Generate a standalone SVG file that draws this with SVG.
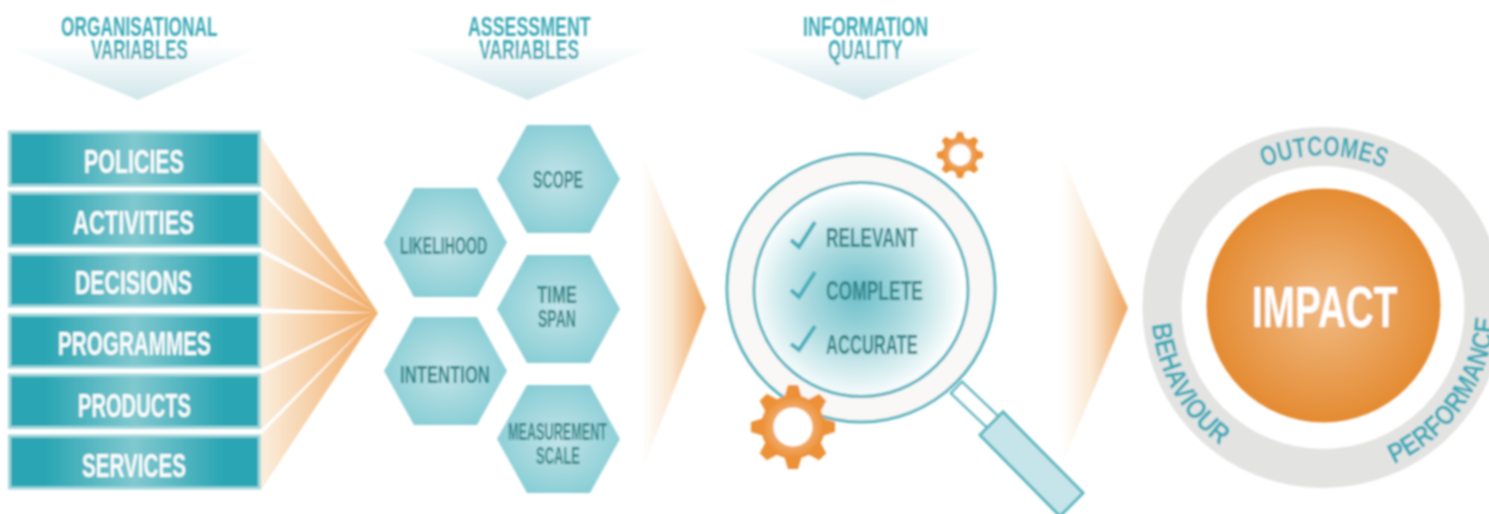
<svg xmlns="http://www.w3.org/2000/svg" width="1489" height="514" viewBox="0 0 1489 514">
<style>
text{font-family:"Liberation Sans",Arial,sans-serif;font-weight:700}
.hd{font-size:27px;fill:#3aa9b6}
.bar{font-size:33px;fill:#fbfdfd}
.hex{font-size:24px;fill:#2f8589}
.chk{font-size:27px;fill:#2f8589}
.ring{font-size:28px;fill:#3aaab8}
.barbox{fill:url(#barG);stroke:#a3d7dc;stroke-width:3}
.tri{fill:url(#triG)}
.hexa{fill:url(#hexG)}
.tick{fill:none;stroke:#45aebb;stroke-width:4}
.gap{fill:#fff}
</style>
<defs>
<filter id="soft" x="0" y="0" width="1489" height="514" filterUnits="userSpaceOnUse"><feGaussianBlur stdDeviation="0.8"/></filter>
<linearGradient id="barG" x1="0" x2="1" y1="0" y2="0"><stop offset="0.14" stop-color="#2aa5b3"/><stop offset="0.5" stop-color="#80c8cf"/><stop offset="0.86" stop-color="#2aa5b3"/></linearGradient>
<linearGradient id="triG" x1="0" x2="0" y1="0" y2="1"><stop offset="0" stop-color="#fdfefe"/><stop offset="1" stop-color="#d0e6ea"/></linearGradient>
<radialGradient id="hexG" cx="0.5" cy="0.5" r="0.55"><stop offset="0" stop-color="#c2e4e8"/><stop offset="1" stop-color="#88cdd5"/></radialGradient>
<linearGradient id="fanG" gradientUnits="userSpaceOnUse" x1="261" x2="378" y1="0" y2="0"><stop offset="0" stop-color="#fbeedd"/><stop offset="1" stop-color="#f0a860"/></linearGradient>
<linearGradient id="arG" x1="0" x2="1" y1="0" y2="0"><stop offset="0" stop-color="#fff"/><stop offset="0.45" stop-color="#fae8d3"/><stop offset="1" stop-color="#efa55d"/></linearGradient>
<radialGradient id="lens" cx="0.48" cy="0.52" r="0.5"><stop offset="0" stop-color="#6dbfca"/><stop offset="0.5" stop-color="#aedce1"/><stop offset="1" stop-color="#fff"/></radialGradient>
<radialGradient id="gearG" cx="0.5" cy="0.5" r="0.5"><stop offset="0.5" stop-color="#f2b173"/><stop offset="1" stop-color="#ec8f36"/></radialGradient>
<radialGradient id="sunG" cx="0.5" cy="0.5" r="0.5"><stop offset="0" stop-color="#f0bb85"/><stop offset="1" stop-color="#e48b32"/></radialGradient>
<g id="gear"><circle r="32" fill="url(#gearG)"/><g fill="#ec9139"><polygon points="-9,-29 -5,-42 5,-42 9,-29"/><polygon points="-9,-29 -5,-42 5,-42 9,-29" transform="rotate(45)"/><polygon points="-9,-29 -5,-42 5,-42 9,-29" transform="rotate(90)"/><polygon points="-9,-29 -5,-42 5,-42 9,-29" transform="rotate(135)"/><polygon points="-9,-29 -5,-42 5,-42 9,-29" transform="rotate(180)"/><polygon points="-9,-29 -5,-42 5,-42 9,-29" transform="rotate(225)"/><polygon points="-9,-29 -5,-42 5,-42 9,-29" transform="rotate(270)"/><polygon points="-9,-29 -5,-42 5,-42 9,-29" transform="rotate(315)"/></g><circle r="19.5" fill="#fff"/></g>
<path id="arcTop" d="M1171 307.500A152 152 0 0 1 1475 307.500"/>
<path id="arcBot" d="M1151 307.500A172 172 0 0 0 1495 307.500"/>
</defs>
<rect width="1489" height="514" fill="#fff"/>
<g filter="url(#soft)">
<g id="connectors">
<polygon points="261,136 378,313 261,490" fill="url(#fanG)"/>
<polygon class="gap" points="261,187 261,192 378,313"/><polygon class="gap" points="261,248 261,253 378,313"/><polygon class="gap" points="261,308.500 261,313.500 378,313"/><polygon class="gap" points="261,369 261,374 378,313"/><polygon class="gap" points="261,430 261,435 378,313"/>
<path d="M642 155Q682 250 706 308Q682 370 642 470Z" fill="url(#arG)"/>
<path d="M1062 155Q1102 250 1128 308Q1102 370 1062 465Z" fill="url(#arG)"/>
</g>
<g id="header-organisational"><polygon class="tri" points="12,48 258,48 138,100"/><text class="hd" transform="translate(61 36) scale(.642 1)">ORGANISATIONAL</text><text class="hd" transform="translate(91 59) scale(.63 1)">VARIABLES</text></g>
<g id="header-assessment"><polygon class="tri" points="405,48 650,48 528,100"/><text class="hd" transform="translate(468 36) scale(.66 1)">ASSESSMENT</text><text class="hd" transform="translate(479 59) scale(.65 1)">VARIABLES</text></g>
<g id="header-information"><polygon class="tri" points="740,48 985,48 864,100"/><text class="hd" transform="translate(803 36) scale(.665 1)">INFORMATION</text><text class="hd" transform="translate(828 59) scale(.63 1)">QUALITY</text></g>
<g id="policies"><rect class="barbox" x="9.500" y="132" width="250" height="53.500"/><text class="bar" transform="translate(84 173) scale(.649 1)">POLICIES</text></g>
<g id="activities"><rect class="barbox" x="9.500" y="193" width="250" height="53"/><text class="bar" transform="translate(73 234) scale(.667 1)">ACTIVITIES</text></g>
<g id="decisions"><rect class="barbox" x="9.500" y="254" width="250" height="52"/><text class="bar" transform="translate(75 294) scale(.645 1)">DECISIONS</text></g>
<g id="programmes"><rect class="barbox" x="9.500" y="315" width="250" height="52"/><text class="bar" transform="translate(58 355) scale(.627 1)">PROGRAMMES</text></g>
<g id="products"><rect class="barbox" x="9.500" y="375" width="250" height="52.500"/><text class="bar" transform="translate(78 417) scale(.61 1)">PRODUCTS</text></g>
<g id="services"><rect class="barbox" x="9.500" y="436" width="250" height="52"/><text class="bar" transform="translate(82 477) scale(.626 1)">SERVICES</text></g>
<g id="scope"><polygon class="hexa" points="527,125 590,125 620,179 590,233 527,233 497,179"/><text class="hex" transform="translate(533 188) scale(.595 1)">SCOPE</text></g>
<g id="likelihood"><polygon class="hexa" points="414,188 477,188 507,242.500 477,297 414,297 384,242.500"/><text class="hex" transform="translate(400 254) scale(.59 1)">LIKELIHOOD</text></g>
<g id="time-span"><polygon class="hexa" points="527,255 590,255 620,309 590,363 527,363 497,309"/><text class="hex" transform="translate(537 303) scale(.698 1)">TIME</text><text class="hex" transform="translate(538 327) scale(.585 1)">SPAN</text></g>
<g id="intention"><polygon class="hexa" points="414,317 477,317 507,371 477,425 414,425 384,371"/><text class="hex" transform="translate(400 383) scale(.696 1)">INTENTION</text></g>
<g id="measurement-scale"><polygon class="hexa" points="527,385 590,385 620,439 590,493 527,493 497,439"/><text class="hex" transform="translate(508 440) scale(.527 1)">MEASUREMENT</text><text class="hex" transform="translate(536 464) scale(.541 1)">SCALE</text></g>
<g id="magnifier">
<g transform="translate(956.500 387.500) rotate(43.600)"><rect x="0" y="-8" width="50" height="16" fill="#fff" stroke="#5db6c1" stroke-width="2.500"/></g>
<polygon points="980,435 1003,412 1083,493 1060,516" fill="#c6e5ea" stroke="#5db6c1" stroke-width="3"/>
<circle cx="861" cy="288" r="134" fill="#f9f8f6" stroke="#58b3bf" stroke-width="3"/>
<circle cx="861" cy="289.500" r="107" fill="url(#lens)" stroke="#58b3bf" stroke-width="3"/>
<polyline class="tick" points="791,240 799,247 815,222"/><polyline class="tick" points="791,290 799,297 815,272"/><polyline class="tick" points="791,344 799,350 815,326"/>
<text class="chk" transform="translate(826 247) scale(.64 1)">RELEVANT</text>
<text class="chk" transform="translate(826 300) scale(.647 1)">COMPLETE</text>
<text class="chk" transform="translate(826 354) scale(.614 1)">ACCURATE</text>
</g>
<g id="gear-large"><use href="#gear" transform="translate(793 427)"/></g>
<g id="gear-small"><use href="#gear" transform="translate(960 155) scale(0.55)"/></g>
<g id="impact">
<circle cx="1323" cy="307.500" r="161" fill="none" stroke="#e3e3e2" stroke-width="39"/>
<circle cx="1323.500" cy="305.500" r="117" fill="url(#sunG)"/>
<text transform="translate(1252 327) scale(.667 1)" font-size="58" fill="#fff">IMPACT</text>
<text class="ring"><textPath href="#arcTop" startOffset="178" textLength="123" lengthAdjust="spacingAndGlyphs">OUTCOMES</textPath></text>
<text class="ring"><textPath href="#arcBot" startOffset="17" textLength="143" lengthAdjust="spacingAndGlyphs">BEHAVIOUR</textPath></text>
<text class="ring"><textPath href="#arcBot" startOffset="343" textLength="186" lengthAdjust="spacingAndGlyphs">PERFORMANCE</textPath></text>
</g>
</g>
</svg>
